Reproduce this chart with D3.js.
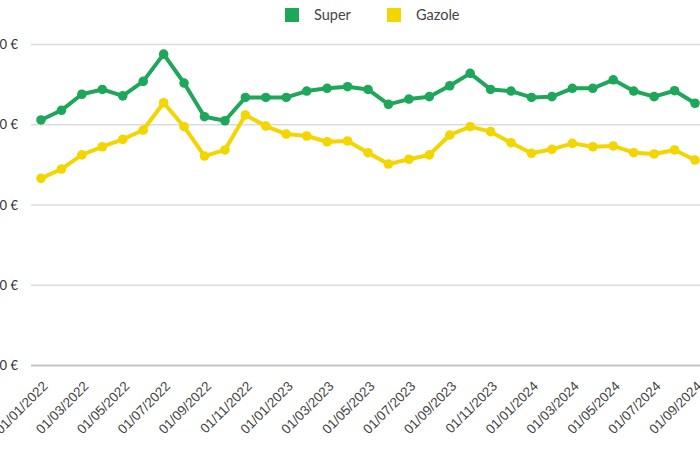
<!DOCTYPE html>
<html><head><meta charset="utf-8">
<script src="https://cdn.jsdelivr.net/npm/d3@7"></script>
<style>
html,body{margin:0;padding:0;background:#fff;overflow:hidden;}
svg{display:block;}
</style></head>
<body>
<svg id="chart" width="700" height="450"></svg>
<script>
const dates = ["01/01/2022","01/02/2022","01/03/2022","01/04/2022","01/05/2022","01/06/2022","01/07/2022","01/08/2022","01/09/2022","01/10/2022","01/11/2022","01/12/2022",
"01/01/2023","01/02/2023","01/03/2023","01/04/2023","01/05/2023","01/06/2023","01/07/2023","01/08/2023","01/09/2023","01/10/2023","01/11/2023","01/12/2023",
"01/01/2024","01/02/2024","01/03/2024","01/04/2024","01/05/2024","01/06/2024","01/07/2024","01/08/2024","01/09/2024"];
const superValues = [1.53,1.59,1.69,1.72,1.68,1.77,1.94,1.76,1.55,1.525,1.67,1.67,
1.67,1.71,1.727,1.737,1.72,1.627,1.66,1.675,1.743,1.82,1.72,1.71,
1.67,1.675,1.727,1.727,1.78,1.71,1.675,1.712,1.634];
const gazoleValues = [1.166,1.224,1.312,1.363,1.409,1.467,1.637,1.488,1.305,1.343,1.561,1.492,
1.442,1.43,1.394,1.399,1.326,1.255,1.285,1.312,1.436,1.488,1.457,1.388,
1.322,1.347,1.384,1.363,1.368,1.326,1.318,1.343,1.28];
const yTicks = [0, 0.5, 1, 1.5, 2];
const seriesNames = ["Super","Gazole"];
const colors = ["#1ea75a","#f3d500"];

const svg = d3.select("#chart");
const x = d3.scalePoint().domain(dates).range([41, 695]);
const y = d3.scaleLinear().domain([0, 2]).range([365.5, 44.5]);
const fmt = v => v.toFixed(2).replace(".", ",") + " €";

// gridlines
svg.append("g").selectAll("line").data(yTicks).join("line")
  .attr("x1", 31).attr("x2", 720)
  .attr("y1", d => y(d)).attr("y2", d => y(d))
  .attr("stroke", d => d === 0 ? "#c4c4c4" : "#dcdcdc")
  .attr("stroke-width", d => d === 0 ? 2 : 1.5);

// y labels
svg.append("g").selectAll("text").data(yTicks).join("text")
  .attr("x", 18).attr("y", d => y(d)).attr("dy", "0.35em")
  .attr("text-anchor", "end")
  .style("font-family", "Lato, 'Open Sans', sans-serif")
  .style("font-size", "13px").attr("fill", "#333")
  .text(fmt);

// x axis labels
const xAxis = d3.axisBottom(x).tickValues(dates.filter((d, i) => i % 2 === 0)).tickSize(0);
const gx = svg.append("g").attr("transform", "translate(0,365)").call(xAxis);
gx.select(".domain").remove();
gx.selectAll("text")
  .attr("text-anchor", "end")
  .attr("x", 0).attr("y", 0).attr("dy", 0)
  .attr("transform", "translate(7,22) rotate(-45)")
  .style("font-family", "'Liberation Sans', Arial, sans-serif")
  .style("font-size", "13.5px").attr("fill", "#444");

// series
const series = [superValues, gazoleValues];
const line = d3.line().x((d, i) => x(dates[i])).y(d => y(d));
series.forEach((vals, k) => {
  svg.append("path").datum(vals).attr("d", line)
    .attr("fill", "none").attr("stroke", colors[k]).attr("stroke-width", 4)
    .attr("stroke-linejoin", "round");
  svg.append("g").selectAll("circle").data(vals).join("circle")
    .attr("cx", (d, i) => x(dates[i])).attr("cy", d => y(d))
    .attr("r", 4.8).attr("fill", colors[k]);
});

// legend
const legendX = [285, 387];
const lg = svg.append("g");
seriesNames.forEach((n, k) => {
  lg.append("rect").attr("x", legendX[k]).attr("y", 8).attr("width", 14).attr("height", 14).attr("fill", colors[k]);
  lg.append("text").attr("x", legendX[k] + 29).attr("y", 15).attr("dy", "0.35em")
    .style("font-family", "Lato, 'Open Sans', sans-serif").style("font-size", "14.5px")
    .attr("fill", "#444").text(n);
});
</script>
</body></html>
